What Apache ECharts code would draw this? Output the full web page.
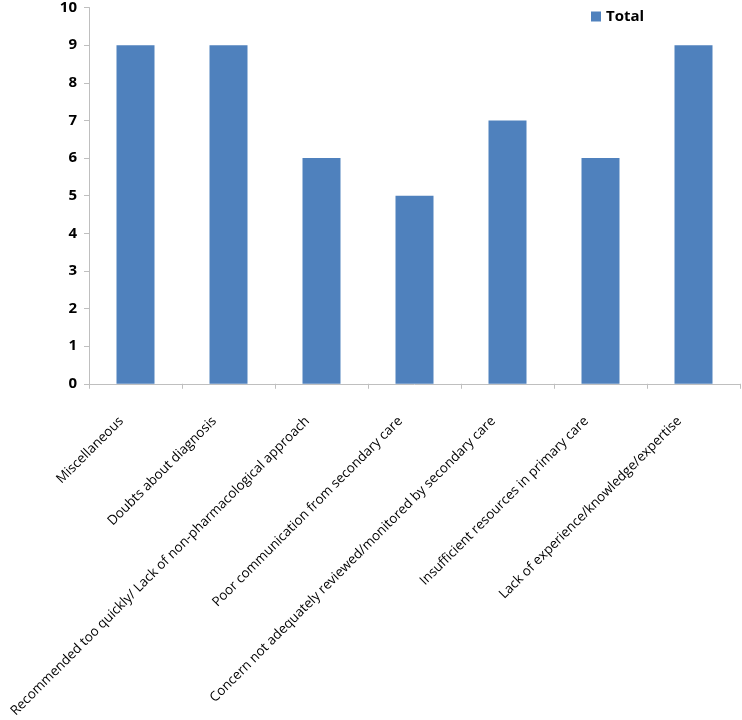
<!DOCTYPE html>
<html>
<head>
<meta charset="utf-8">
<script src="https://cdn.jsdelivr.net/npm/echarts@6/dist/echarts.min.js"></script>
<style>html,body{margin:0;padding:0;background:#fff}#c{width:742px;height:720px}</style>
</head>
<body>
<div id="c"></div>
<script>
const categories = [
  "Miscellaneous",
  "Doubts about diagnosis",
  "Recommended too quickly/ Lack of non-pharmacological approach",
  "Poor communication from secondary care",
  "Concern not adequately reviewed/monitored by secondary care",
  "Insufficient resources in primary care",
  "Lack of experience/knowledge/expertise"
];
const totalValues = [9, 9, 6, 5, 7, 6, 9];
const seriesName = "Total";

const chart = echarts.init(document.getElementById('c'));
chart.setOption({
  animation: false,
  backgroundColor: '#fff',
  legend: {
    data: [seriesName],
    left: 586, top: 4,
    itemWidth: 10, itemHeight: 10, itemGap: 5,
    icon: 'rect',
    textStyle: { fontFamily: 'Open Sans', fontWeight: 'bold', fontSize: 15, color: '#000' }
  },
  grid: { left: 89, right: 2, top: 7, bottom: 335, containLabel: false },
  xAxis: {
    type: 'category',
    data: categories,
    axisLine: { lineStyle: { color: '#bfbfbf' } },
    axisTick: { show: true, alignWithLabel: false, length: 5, lineStyle: { color: '#bfbfbf' } },
    axisLabel: {
      rotate: 45, interval: 0, margin: 21,
      padding: [0, 20, 0, 0],
      fontFamily: 'Open Sans', fontSize: 13.4, color: '#000'
    }
  },
  yAxis: {
    type: 'value', min: 0, max: 10, interval: 1,
    axisLine: { show: true, lineStyle: { color: '#bfbfbf' } },
    axisTick: { show: true, length: 5, lineStyle: { color: '#bfbfbf' } },
    splitLine: { show: false },
    axisLabel: { fontFamily: 'Open Sans', fontWeight: 'bold', fontSize: 15, color: '#000', margin: 12 }
  },
  series: [{
    name: seriesName,
    type: 'bar',
    data: totalValues,
    barWidth: 38,
    itemStyle: { color: '#4f81bd' }
  }]
});
</script>
</body>
</html>
